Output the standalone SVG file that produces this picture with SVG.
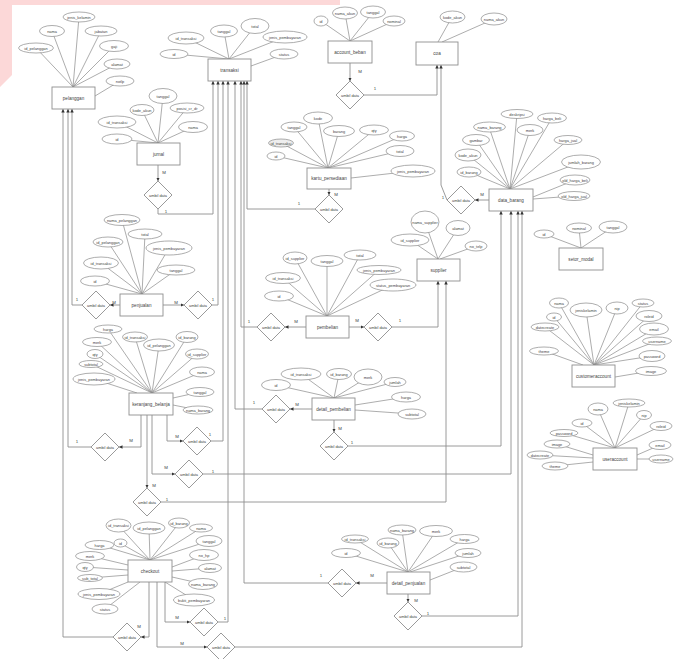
<svg xmlns="http://www.w3.org/2000/svg" width="683" height="659" viewBox="0 0 683 659">
<style>
.a{stroke:#8a8a8a;stroke-width:0.7;fill:none}
.e{fill:#fff;stroke:#8a8a8a;stroke-width:0.7}
.r{fill:#fff;stroke:#8f8f8f;stroke-width:0.9}
.d{fill:#fff;stroke:#8f8f8f;stroke-width:0.9}
.c{stroke:#8f8f8f;stroke-width:0.9;fill:none}
.ar{marker-end:url(#ah)}
text{font-family:"Liberation Sans",Arial,sans-serif;fill:#444;text-anchor:middle}
.t{font-size:3.9px}
.n{font-size:4.6px}
.l{font-size:4.4px;fill:#555}
</style>
<defs>
<marker id="ah" viewBox="0 0 6 6" refX="6" refY="3" markerWidth="3.5" markerHeight="3.5" markerUnits="userSpaceOnUse" orient="auto"><path d="M0,0 L6,3 L0,6 Z" fill="#333"/></marker>
</defs>
<rect width="683" height="659" fill="#fff"/>
<path d="M0,0 H340 V5 H12 V75 L0,87 Z" fill="#fcd8d8"/>

<g id="connectors">
<path class="c ar" d="M350,63 V81"/><path class="c ar" d="M364,95 H437 V65"/>
<path class="c ar" d="M158,165 V181"/><path class="c ar" d="M158,209 V214 H213 V81"/>
<path class="c ar" d="M329,189 V195"/><path class="c ar" d="M315,209 H247 V81"/>
<path class="c ar" d="M120,305 H110"/><path class="c ar" d="M82,305 H72 V109"/>
<path class="c ar" d="M163,305 H184"/><path class="c ar" d="M212,305 H218 V81"/>
<path class="c ar" d="M306,327 H285"/><path class="c ar" d="M257,327 H241 V81"/>
<path class="c ar" d="M349,327 H364"/><path class="c ar" d="M392,327 H438 V281"/>
<path class="c ar" d="M489,200 H475"/><path class="c ar" d="M447,200 L441,185 V65"/>
<path class="c ar" d="M141,415 V447 H119"/><path class="c ar" d="M91,447 H68 V109"/>
<path class="c ar" d="M167,415 V441 H183"/><path class="c ar" d="M211,441 H223 V81"/>
<path class="c ar" d="M152,415 V474 H175"/><path class="c ar" d="M203,474 H511 V211"/>
<path class="c ar" d="M147,415 V488"/><path class="c ar" d="M161,502 H446 V281"/>
<path class="c ar" d="M312,409 H290"/><path class="c ar" d="M262,409 H235 V81"/>
<path class="c ar" d="M334,420 V432"/><path class="c ar" d="M348,446 H501 V211"/>
<path class="c ar" d="M165,582 V622 H190"/><path class="c ar" d="M218,622 H228 V81"/>
<path class="c ar" d="M149,582 V637 H141"/><path class="c ar" d="M113,637 H63 V109"/>
<path class="c ar" d="M157,582 V647 H207"/><path class="c ar" d="M235,647 H522 V211"/>
<path class="c ar" d="M387,583 H356"/><path class="c ar" d="M328,583 H244 V81"/>
<path class="c ar" d="M408,594 V602"/><path class="c ar" d="M422,616 H518 V211"/>
<g class="l">
<text x="360" y="72.5">M</text><text x="375" y="90">1</text>
<text x="164" y="174">M</text><text x="166" y="212.5">1</text>
<text x="336" y="195.5">M</text><text x="299" y="205">1</text>
<text x="114" y="303.5">M</text><text x="77" y="301">1</text>
<text x="176" y="303.5">M</text><text x="213" y="301">1</text>
<text x="296" y="322.5">M</text><text x="249" y="322.5">1</text>
<text x="357" y="322">M</text><text x="400" y="322">1</text>
<text x="482" y="195.5">M</text><text x="443" y="198.5">1</text>
<text x="131" y="441.5">M</text><text x="77" y="442.5">1</text>
<text x="177" y="437.5">M</text><text x="210" y="436">1</text>
<text x="166" y="469">M</text><text x="213" y="472.5">1</text>
<text x="154" y="486.5">M</text><text x="167" y="500.5">1</text>
<text x="297" y="405.5">M</text><text x="254" y="403.5">1</text>
<text x="340" y="429.5">M</text><text x="352" y="443.5">1</text>
<text x="177" y="618.5">M</text><text x="225" y="619.5">1</text>
<text x="139" y="627.5">M</text>
<text x="182" y="644.5">M</text>
<text x="372" y="577">M</text><text x="321" y="577">1</text>
<text x="416" y="602">M</text><text x="428" y="614.5">1</text>
</g>
</g>

<g id="relationships">
<g id="r1"><path class="d" d="M350,81 L364,95 L350,109 L336,95 Z"/><text class="t" x="350" y="96.5">ambil data</text></g>
<g id="r2"><path class="d" d="M158,181 L172,195 L158,209 L144,195 Z"/><text class="t" x="158" y="196.5">ambil data</text></g>
<g id="r3"><path class="d" d="M329,195 L343,209 L329,223 L315,209 Z"/><text class="t" x="329" y="210.5">ambil data</text></g>
<g id="r4"><path class="d" d="M96,291 L110,305 L96,319 L82,305 Z"/><text class="t" x="96" y="306.5">ambil data</text></g>
<g id="r5"><path class="d" d="M198,291 L212,305 L198,319 L184,305 Z"/><text class="t" x="198" y="306.5">ambil data</text></g>
<g id="r6"><path class="d" d="M271,313 L285,327 L271,341 L257,327 Z"/><text class="t" x="271" y="328.5">ambil data</text></g>
<g id="r7"><path class="d" d="M378,313 L392,327 L378,341 L364,327 Z"/><text class="t" x="378" y="328.5">ambil data</text></g>
<g id="r8"><path class="d" d="M461,186 L475,200 L461,214 L447,200 Z"/><text class="t" x="461" y="201.5">ambil data</text></g>
<g id="r9"><path class="d" d="M105,433 L119,447 L105,461 L91,447 Z"/><text class="t" x="105" y="448.5">ambil data</text></g>
<g id="r10"><path class="d" d="M197,427 L211,441 L197,455 L183,441 Z"/><text class="t" x="197" y="442.5">ambil data</text></g>
<g id="r11"><path class="d" d="M189,460 L203,474 L189,488 L175,474 Z"/><text class="t" x="189" y="475.5">ambil data</text></g>
<g id="r12"><path class="d" d="M147,488 L161,502 L147,516 L133,502 Z"/><text class="t" x="147" y="503.5">ambil data</text></g>
<g id="r13"><path class="d" d="M276,395 L290,409 L276,423 L262,409 Z"/><text class="t" x="276" y="410.5">ambil data</text></g>
<g id="r14"><path class="d" d="M334,432 L348,446 L334,460 L320,446 Z"/><text class="t" x="334" y="447.5">ambil data</text></g>
<g id="r15"><path class="d" d="M204,608 L218,622 L204,636 L190,622 Z"/><text class="t" x="204" y="623.5">ambil data</text></g>
<g id="r16"><path class="d" d="M127,623 L141,637 L127,651 L113,637 Z"/><text class="t" x="127" y="638.5">ambil data</text></g>
<g id="r17"><path class="d" d="M221,633 L235,647 L221,661 L207,647 Z"/><text class="t" x="221" y="648.5">ambil data</text></g>
<g id="r18"><path class="d" d="M342,569 L356,583 L342,597 L328,583 Z"/><text class="t" x="342" y="584.5">ambil data</text></g>
<g id="r19"><path class="d" d="M408,602 L422,616 L408,630 L394,616 Z"/><text class="t" x="408" y="617.5">ambil data</text></g>
</g>

<g id="pelanggan">
<path class="a" d="M36,48 L73,87 M52,31 L73,87 M79,17 L73,87 M101,31 L73,87 M114,46 L73,87 M117,64 L73,87 M120,81 L95,96"/>
<ellipse class="e" cx="36" cy="48" rx="17.5" ry="5"/><text class="t" x="36" y="49.5">id_pelanggan</text>
<ellipse class="e" cx="52" cy="31" rx="12.5" ry="5.5"/><text class="t" x="52" y="32.5">nama</text>
<ellipse class="e" cx="79" cy="17" rx="16" ry="5"/><text class="t" x="79" y="18.5">jenis_kelamin</text>
<ellipse class="e" cx="101" cy="31" rx="16" ry="5"/><text class="t" x="101" y="32.5">jabatan</text>
<ellipse class="e" cx="114" cy="46" rx="14.5" ry="5.5"/><text class="t" x="114" y="47.5">gaji</text>
<ellipse class="e" cx="117" cy="64" rx="13" ry="5"/><text class="t" x="117" y="65.5">alamat</text>
<ellipse class="e" cx="120" cy="81" rx="14" ry="5"/><text class="t" x="120" y="82.5">notlp</text>
<rect class="r" x="52" y="87" width="43" height="22"/><text class="n" x="73.5" y="99.5">pelanggan</text>
</g>

<g id="transaksi">
<path class="a" d="M174,54 L229,59 M186,38 L229,59 M224,31 L229,59 M255,26 L229,59 M285,37 L229,59 M284,54 L251,66"/>
<ellipse class="e" cx="174" cy="54" rx="14" ry="4.5"/><text class="t" x="174" y="55.5">id</text>
<ellipse class="e" cx="186" cy="38" rx="18" ry="6"/><text class="t" x="186" y="39.5">id_transaksi</text>
<ellipse class="e" cx="224" cy="31" rx="13.5" ry="6"/><text class="t" x="224" y="32.5">tanggal</text>
<ellipse class="e" cx="255" cy="26" rx="14" ry="7.5"/><text class="t" x="255" y="27.5">total</text>
<ellipse class="e" cx="285" cy="37" rx="22" ry="6"/><text class="t" x="285" y="38.5">jenis_pembayaran</text>
<ellipse class="e" cx="284" cy="54" rx="14" ry="5"/><text class="t" x="284" y="55.5">status</text>
<rect class="r" x="208" y="59" width="43" height="22"/><text class="n" x="229.5" y="71.5">transaksi</text>
</g>

<g id="jurnal">
<path class="a" d="M163,96 L158,143 M142,110 L158,143 M187,108 L158,143 M117,122 L158,143 M193,127 L158,143 M117,139 L158,143"/>
<ellipse class="e" cx="163" cy="96" rx="14" ry="7.5"/><text class="t" x="163" y="97.5">tanggal</text>
<ellipse class="e" cx="142" cy="110" rx="12" ry="5.5"/><text class="t" x="142" y="111.5">kode_akun</text>
<ellipse class="e" cx="187" cy="108" rx="17" ry="5"/><text class="t" x="187" y="109.5">posisi_cr_dr</text>
<ellipse class="e" cx="117" cy="122" rx="19" ry="6"/><text class="t" x="117" y="123.5">id_transaksi</text>
<ellipse class="e" cx="193" cy="127" rx="14.5" ry="5.5"/><text class="t" x="193" y="128.5">nama</text>
<ellipse class="e" cx="117" cy="139" rx="15" ry="5"/><text class="t" x="117" y="140.5">id</text>
<rect class="r" x="137" y="143" width="43" height="22"/><text class="n" x="158.5" y="155.5">jurnal</text>
</g>

<g id="account_beban">
<path class="a" d="M321,21 L350,41 M345,13 L350,41 M373,12 L350,41 M394,21 L350,41"/>
<ellipse class="e" cx="321" cy="21" rx="7" ry="5"/><text class="t" x="321" y="22.5">id</text>
<ellipse class="e" cx="345" cy="13" rx="12.5" ry="6"/><text class="t" x="345" y="14.5">nama_akun</text>
<ellipse class="e" cx="373" cy="12" rx="12.5" ry="6"/><text class="t" x="373" y="13.5">tanggal</text>
<ellipse class="e" cx="394" cy="21" rx="11" ry="5"/><text class="t" x="394" y="22.5">nominal</text>
<rect class="r" x="328" y="41" width="44" height="22"/><text class="n" x="350" y="53.5">account_beban</text>
</g>

<g id="coa">
<path class="a" d="M452,17 L438,42 M494,19 L442,42"/>
<ellipse class="e" cx="452.5" cy="17" rx="12.5" ry="6"/><text class="t" x="452.5" y="18.5">kode_akun</text>
<ellipse class="e" cx="494" cy="19" rx="13" ry="6"/><text class="t" x="494" y="20.5">nama_akun</text>
<rect class="r" x="416" y="42" width="42" height="23"/><text class="n" x="437" y="55">coa</text>
</g>

<g id="kartu_persediaan">
<path class="a" d="M294,127 L328,168 M318,118 L328,168 M339,131 L328,168 M374,130 L328,168 M402,136 L328,168 M281,143 L328,168 M276,156 L328,168 M400,151 L328,168 M413,171 L351,178"/>
<ellipse class="e" cx="294" cy="127" rx="13" ry="5"/><text class="t" x="294" y="128.5">tanggal</text>
<ellipse class="e" cx="318" cy="118" rx="14.5" ry="6"/><text class="t" x="318" y="119.5">kode</text>
<ellipse class="e" cx="339" cy="131" rx="15.5" ry="5.5"/><text class="t" x="339" y="132.5">barang</text>
<ellipse class="e" cx="374" cy="130" rx="14.5" ry="5"/><text class="t" x="374" y="131.5">qty</text>
<ellipse class="e" cx="402" cy="136" rx="12.5" ry="5"/><text class="t" x="402" y="137.5">harga</text>
<ellipse class="e" cx="281" cy="143" rx="12.5" ry="4" style="fill:#eee"/><text class="t" x="281" y="144.5">id_transaksi</text>
<ellipse class="e" cx="276" cy="156" rx="9" ry="4"/><text class="t" x="276" y="157.5">id</text>
<ellipse class="e" cx="400" cy="151" rx="14" ry="5.5"/><text class="t" x="400" y="152.5">total</text>
<ellipse class="e" cx="413" cy="171" rx="22" ry="6"/><text class="t" x="413" y="172.5">jenis_pembayaran</text>
<rect class="r" x="307" y="168" width="44" height="21"/><text class="n" x="329" y="180">kartu_persediaan</text>
</g>

<g id="data_barang">
<path class="a" d="M517,114 L510,189 M552,118 L510,189 M489,127 L510,189 M530,130 L510,189 M568,140 L510,189 M476,140 L510,189 M468,155 L510,189 M581,162 L510,189 M469,172 L510,189 M575,180 L533,197 M574,196 L533,199"/>
<ellipse class="e" cx="517" cy="114" rx="16" ry="4.5"/><text class="t" x="517" y="115.5">deskripsi</text>
<ellipse class="e" cx="552" cy="118" rx="14.5" ry="5"/><text class="t" x="552" y="119.5">harga_beli</text>
<ellipse class="e" cx="489.5" cy="127" rx="16" ry="5"/><text class="t" x="489.5" y="128.5">nama_barang</text>
<ellipse class="e" cx="530" cy="130" rx="13" ry="5.5"/><text class="t" x="530" y="131.5">merk</text>
<ellipse class="e" cx="568" cy="140" rx="14" ry="4.5"/><text class="t" x="568" y="141.5">harga_jual</text>
<ellipse class="e" cx="476" cy="140" rx="13.5" ry="5.5"/><text class="t" x="476" y="141.5">gambar</text>
<ellipse class="e" cx="468" cy="155" rx="13" ry="6"/><text class="t" x="468" y="156.5">kode_akun</text>
<ellipse class="e" cx="581" cy="162" rx="19.5" ry="7"/><text class="t" x="581" y="163.5">jumlah_barang</text>
<ellipse class="e" cx="469" cy="172" rx="12" ry="5"/><text class="t" x="469" y="173.5">id_barang</text>
<ellipse class="e" cx="575" cy="180" rx="15" ry="5"/><text class="t" x="575" y="181.5">old_harga_beli</text>
<ellipse class="e" cx="574" cy="196" rx="16" ry="4.5"/><text class="t" x="574" y="197.5">old_harga_jual</text>
<rect class="r" x="489" y="189" width="44" height="22"/><text class="n" x="511" y="201.5">data_barang</text>
</g>

<g id="setor_modal">
<path class="a" d="M544,234 L581,248 M579,228 L581,248 M613,227 L581,248"/>
<ellipse class="e" cx="544" cy="234" rx="10" ry="4"/><text class="t" x="544" y="235.5">id</text>
<ellipse class="e" cx="579" cy="228" rx="12.5" ry="5"/><text class="t" x="579" y="229.5">nominal</text>
<ellipse class="e" cx="613" cy="227" rx="14" ry="6"/><text class="t" x="613" y="228.5">tanggal</text>
<rect class="r" x="559" y="248" width="44" height="22"/><text class="n" x="581" y="260.5">setor_modal</text>
</g>

<g id="penjualan">
<path class="a" d="M122,220 L142,294 M145,234 L142,294 M108,242 L142,294 M169,248 L142,294 M101,263 L142,294 M176,270 L142,294 M95,281 L142,294"/>
<ellipse class="e" cx="122" cy="220" rx="18" ry="5.5"/><text class="t" x="122" y="221.5">nama_pelanggan</text>
<ellipse class="e" cx="145" cy="234" rx="17" ry="5"/><text class="t" x="145" y="235.5">total</text>
<ellipse class="e" cx="108" cy="242" rx="15" ry="5"/><text class="t" x="108" y="243.5">id_pelanggan</text>
<ellipse class="e" cx="169" cy="248" rx="23" ry="7"/><text class="t" x="169" y="249.5">jenis_pembayaran</text>
<ellipse class="e" cx="101" cy="263" rx="17.5" ry="6"/><text class="t" x="101" y="264.5">id_transaksi</text>
<ellipse class="e" cx="176" cy="270" rx="19" ry="5"/><text class="t" x="176" y="271.5">tanggal</text>
<ellipse class="e" cx="95" cy="281" rx="14.5" ry="5"/><text class="t" x="95" y="282.5">id</text>
<rect class="r" x="120" y="294" width="43" height="22"/><text class="n" x="141.5" y="306.5">penjualan</text>
</g>

<g id="supplier">
<path class="a" d="M425,222 L438,259 M410,240 L438,259 M458,228 L438,259 M476,246 L440,259"/>
<ellipse class="e" cx="425" cy="222" rx="14" ry="11"/><text class="t" x="425" y="223.5">nama_supplier</text>
<ellipse class="e" cx="410" cy="240" rx="19" ry="6"/><text class="t" x="410" y="241.5">id_supplier</text>
<ellipse class="e" cx="458" cy="228" rx="12" ry="7.5"/><text class="t" x="458" y="229.5">alamat</text>
<ellipse class="e" cx="476" cy="246" rx="11" ry="5"/><text class="t" x="476" y="247.5">no_telp</text>
<rect class="r" x="417" y="259" width="43" height="22"/><text class="n" x="438.5" y="271.5">supplier</text>
</g>

<g id="pembelian">
<path class="a" d="M295,258 L327,316 M327,261 L327,316 M360,255 L327,316 M283,278 L327,316 M379,270 L327,316 M393,285 L327,316 M279,296 L327,316"/>
<ellipse class="e" cx="295" cy="258" rx="12" ry="6"/><text class="t" x="295" y="259.5">id_supplier</text>
<ellipse class="e" cx="327" cy="261" rx="16" ry="5.5"/><text class="t" x="327" y="262.5">tanggal</text>
<ellipse class="e" cx="360" cy="255" rx="16" ry="5"/><text class="t" x="360" y="256.5">total</text>
<ellipse class="e" cx="283" cy="278" rx="17.5" ry="5.5"/><text class="t" x="283" y="279.5">id_transaksi</text>
<ellipse class="e" cx="379" cy="270" rx="22" ry="4.5"/><text class="t" x="379" y="271.5">jenis_pembayaran</text>
<ellipse class="e" cx="393" cy="285" rx="23" ry="6"/><text class="t" x="393" y="286.5">status_pembayaran</text>
<ellipse class="e" cx="279" cy="296" rx="14.5" ry="5"/><text class="t" x="279" y="297.5">id</text>
<rect class="r" x="306" y="316" width="43" height="22"/><text class="n" x="327.5" y="328.5">pembelian</text>
</g>

<g id="customeraccount">
<path class="a" d="M559,303 L594,365 M586,310 L594,365 M617,308 L594,365 M643,303 L594,365 M554,317 L594,365 M649,316 L594,365 M545,327 L594,365 M654,329 L594,365 M657,341 L594,365 M652,356 L594,365 M651,371 L615,377 M544,351 L583,365"/>
<ellipse class="e" cx="559" cy="303" rx="9.5" ry="5"/><text class="t" x="559" y="304.5">nama</text>
<ellipse class="e" cx="586" cy="310" rx="16" ry="7"/><text class="t" x="586" y="311.5">jeniskelamin</text>
<ellipse class="e" cx="617" cy="308" rx="11" ry="6"/><text class="t" x="617" y="309.5">nip</text>
<ellipse class="e" cx="643" cy="303" rx="11" ry="4"/><text class="t" x="643" y="304.5">status</text>
<ellipse class="e" cx="554" cy="317" rx="7.5" ry="4"/><text class="t" x="554" y="318.5">id</text>
<ellipse class="e" cx="649" cy="316" rx="13" ry="5.5"/><text class="t" x="649" y="317.5">roleid</text>
<ellipse class="e" cx="545" cy="327" rx="14" ry="4"/><text class="t" x="545" y="328.5">datecreate</text>
<ellipse class="e" cx="654" cy="329" rx="14.5" ry="6"/><text class="t" x="654" y="330.5">email</text>
<ellipse class="e" cx="657" cy="341" rx="14.5" ry="4"/><text class="t" x="657" y="342.5">username</text>
<ellipse class="e" cx="652" cy="356" rx="13" ry="5.5"/><text class="t" x="652" y="357.5">password</text>
<ellipse class="e" cx="651" cy="371" rx="15.5" ry="4.5"/><text class="t" x="651" y="372.5">image</text>
<ellipse class="e" cx="544" cy="351" rx="14.5" ry="4"/><text class="t" x="544" y="352.5">theme</text>
<rect class="r" x="572" y="365" width="43" height="22"/><text class="n" x="593.5" y="377.5">customeraccount</text>
</g>

<g id="useraccount">
<path class="a" d="M598,409 L615,448 M629,403 L615,448 M644,415 L615,448 M661,426 L615,448 M582,423 L615,448 M564,433 L615,448 M557,444 L593,455 M540,455 L593,458 M555,466 L593,462 M660,445 L637,455 M661,459 L637,459"/>
<ellipse class="e" cx="598" cy="409" rx="10" ry="6"/><text class="t" x="598" y="410.5">nama</text>
<ellipse class="e" cx="629" cy="403" rx="16" ry="4"/><text class="t" x="629" y="404.5">jeniskelamin</text>
<ellipse class="e" cx="644" cy="415" rx="7.5" ry="4.5"/><text class="t" x="644" y="416.5">nip</text>
<ellipse class="e" cx="661" cy="426" rx="11" ry="4.5"/><text class="t" x="661" y="427.5">roleid</text>
<ellipse class="e" cx="582" cy="423" rx="10" ry="4"/><text class="t" x="582" y="424.5">id</text>
<ellipse class="e" cx="564" cy="433" rx="14" ry="3.5"/><text class="t" x="564" y="434.5">password</text>
<ellipse class="e" cx="557" cy="444" rx="13" ry="4"/><text class="t" x="557" y="445.5">image</text>
<ellipse class="e" cx="540" cy="455" rx="13" ry="4"/><text class="t" x="540" y="456.5">datecreate</text>
<ellipse class="e" cx="555" cy="466" rx="13" ry="4"/><text class="t" x="555" y="467.5">theme</text>
<ellipse class="e" cx="660" cy="445" rx="11" ry="4.5"/><text class="t" x="660" y="446.5">email</text>
<ellipse class="e" cx="661" cy="459" rx="12" ry="4"/><text class="t" x="661" y="460.5">username</text>
<rect class="r" x="593" y="448" width="44" height="22"/><text class="n" x="615" y="460.5">useraccount</text>
</g>

<g id="keranjang_belanja">
<path class="a" d="M108,329 L152,393 M135,337 L152,393 M159,345 L152,393 M187,337 L152,393 M97,342 L152,393 M197,354 L152,393 M95,354 L152,393 M91,364 L152,393 M202,372 L152,393 M94,379 L137,393 M200,392 L173,398 M198,410 L173,405"/>
<ellipse class="e" cx="108" cy="329" rx="14" ry="4"/><text class="t" x="108" y="330.5">harga</text>
<ellipse class="e" cx="135" cy="337" rx="12.5" ry="5"/><text class="t" x="135" y="338.5">id_transaksi</text>
<ellipse class="e" cx="159" cy="345" rx="15.5" ry="6"/><text class="t" x="159" y="346.5">id_pelanggan</text>
<ellipse class="e" cx="187" cy="337" rx="11" ry="5.5"/><text class="t" x="187" y="338.5">id_barang</text>
<ellipse class="e" cx="97" cy="342" rx="14.5" ry="4.5"/><text class="t" x="97" y="343.5">merk</text>
<ellipse class="e" cx="197" cy="354" rx="11.5" ry="5"/><text class="t" x="197" y="355.5">id_supplier</text>
<ellipse class="e" cx="95" cy="354" rx="8" ry="4.5"/><text class="t" x="95" y="355.5">qty</text>
<ellipse class="e" cx="91" cy="364" rx="12" ry="3.5"/><text class="t" x="91" y="365.5">subtotal</text>
<ellipse class="e" cx="202" cy="372" rx="12.5" ry="5"/><text class="t" x="202" y="373.5">nama</text>
<ellipse class="e" cx="94" cy="379" rx="21" ry="6"/><text class="t" x="94" y="380.5">jenis_pembayaran</text>
<ellipse class="e" cx="200" cy="392" rx="14" ry="4.5"/><text class="t" x="200" y="393.5">tanggal</text>
<ellipse class="e" cx="198" cy="410" rx="15" ry="4"/><text class="t" x="198" y="411.5">nama_barang</text>
<rect class="r" x="129" y="393" width="44" height="22"/><text class="n" x="151" y="405.5">keranjang_belanja</text>
</g>

<g id="detail_pembelian">
<path class="a" d="M276,385 L334,398 M301,374 L334,398 M339,374 L334,398 M368,377 L334,398 M395,382 L334,398 M406,397 L355,405 M412,414 L355,410"/>
<ellipse class="e" cx="276" cy="385" rx="14.5" ry="5.5"/><text class="t" x="276" y="386.5">id</text>
<ellipse class="e" cx="301" cy="374" rx="20" ry="6"/><text class="t" x="301" y="375.5">id_transaksi</text>
<ellipse class="e" cx="339" cy="374" rx="12.5" ry="5.5"/><text class="t" x="339" y="375.5">id_barang</text>
<ellipse class="e" cx="368" cy="377" rx="14" ry="8"/><text class="t" x="368" y="378.5">merk</text>
<ellipse class="e" cx="395" cy="382" rx="11" ry="4.5"/><text class="t" x="395" y="383.5">jumlah</text>
<ellipse class="e" cx="406" cy="397" rx="14.5" ry="5"/><text class="t" x="406" y="398.5">harga</text>
<ellipse class="e" cx="412" cy="414" rx="14" ry="5"/><text class="t" x="412" y="415.5">subtotal</text>
<rect class="r" x="312" y="398" width="43" height="22"/><text class="n" x="333.5" y="410.5">detail_pembelian</text>
</g>

<g id="checkout">
<path class="a" d="M118.5,525.5 L150,560 M149,528 L150,560 M179,523 L150,560 M201,528 L150,560 M120,543 L150,560 M100,545 L150,560 M209,541 L150,560 M90,556 L128,565 M204,555 L172,567 M85,567 L128,570 M210,568 L172,571 M90,578 L128,575 M203,584 L172,577 M99,594 L128,582 M194,600 L165,582 M105,609 L140,582"/>
<ellipse class="e" cx="118.5" cy="525.5" rx="12.5" ry="6.5"/><text class="t" x="118.5" y="527">id_transaksi</text>
<ellipse class="e" cx="149" cy="528" rx="16" ry="6"/><text class="t" x="149" y="529.5">id_pelanggan</text>
<ellipse class="e" cx="179" cy="523" rx="10.5" ry="5"/><text class="t" x="179" y="524.5">id_barang</text>
<ellipse class="e" cx="201" cy="528" rx="11.5" ry="4"/><text class="t" x="201" y="529.5">nama</text>
<ellipse class="e" cx="120.5" cy="543" rx="6.5" ry="4"/><text class="t" x="120.5" y="544.5">id</text>
<ellipse class="e" cx="99.5" cy="545" rx="14.5" ry="4.5"/><text class="t" x="99.5" y="546.5">harga</text>
<ellipse class="e" cx="209" cy="541" rx="13" ry="5.5"/><text class="t" x="209" y="542.5">tanggal</text>
<ellipse class="e" cx="90" cy="556" rx="14.5" ry="4.5"/><text class="t" x="90" y="557.5">merk</text>
<ellipse class="e" cx="204" cy="555" rx="14.5" ry="5.5"/><text class="t" x="204" y="556.5">no_hp</text>
<ellipse class="e" cx="85" cy="567" rx="8.5" ry="4.5"/><text class="t" x="85" y="568.5">qty</text>
<ellipse class="e" cx="210" cy="568" rx="11.5" ry="4.5"/><text class="t" x="210" y="569.5">alamat</text>
<ellipse class="e" cx="90" cy="578" rx="12.5" ry="3.5"/><text class="t" x="90" y="579.5">sub_total</text>
<ellipse class="e" cx="203" cy="584" rx="14.5" ry="5.5"/><text class="t" x="203" y="585.5">nama_barang</text>
<ellipse class="e" cx="99" cy="594" rx="21" ry="5.5"/><text class="t" x="99" y="595.5">jenis_pembayaran</text>
<ellipse class="e" cx="194" cy="600" rx="20.5" ry="6"/><text class="t" x="194" y="601.5">bukti_pembayaran</text>
<ellipse class="e" cx="105" cy="609" rx="13" ry="5"/><text class="t" x="105" y="610.5">status</text>
<rect class="r" x="128" y="560" width="44" height="22"/><text class="n" x="150" y="572.5">checkout</text>
</g>

<g id="detail_penjualan">
<path class="a" d="M355,539 L408,572 M346,553 L408,572 M402,530 L408,572 M388,543 L408,572 M436,531 L408,572 M464,539 L408,572 M468,553 L410,572 M463,567 L430,580"/>
<ellipse class="e" cx="355" cy="539" rx="13.5" ry="4"/><text class="t" x="355" y="540.5">id_transaksi</text>
<ellipse class="e" cx="346" cy="553" rx="14.5" ry="4.5"/><text class="t" x="346" y="554.5">id</text>
<ellipse class="e" cx="402" cy="530" rx="14" ry="5"/><text class="t" x="402" y="531.5">nama_barang</text>
<ellipse class="e" cx="388" cy="543" rx="11" ry="5"/><text class="t" x="388" y="544.5">id_barang</text>
<ellipse class="e" cx="436" cy="531" rx="16.5" ry="5.5"/><text class="t" x="436" y="532.5">merk</text>
<ellipse class="e" cx="464.5" cy="539" rx="14.5" ry="4.5"/><text class="t" x="464.5" y="540.5">harga</text>
<ellipse class="e" cx="468" cy="553" rx="13" ry="4.5"/><text class="t" x="468" y="554.5">jumlah</text>
<ellipse class="e" cx="463.5" cy="567" rx="13.5" ry="5"/><text class="t" x="463.5" y="568.5">subtotal</text>
<rect class="r" x="387" y="572" width="43" height="22"/><text class="n" x="408.5" y="584.5">detail_penjualan</text>
</g>
</svg>
